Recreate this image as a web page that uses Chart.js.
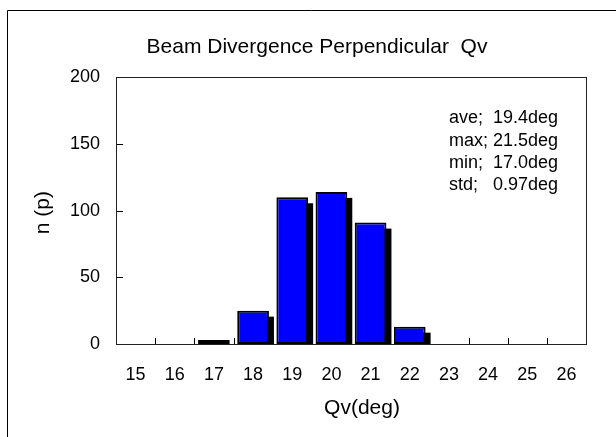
<!DOCTYPE html>
<html><head><meta charset="utf-8">
<script src="https://cdn.jsdelivr.net/npm/chart.js@4.4.1/dist/chart.umd.min.js"></script>
<style>html,body{margin:0;padding:0;background:#fff}#wrap{width:616px;height:437px;position:relative}</style>
</head><body><div id="wrap"><canvas id="c" width="616" height="437"></canvas></div>
<script>
const categories = ['15','16','17','18','19','20','21','22','23','24','25','26'];
const counts = [0, 0, 3, 25, 110, 114, 91, 13, 0, 0, 0, 0];
const yTickValues = [0, 50, 100, 150, 200];
const chartTitle = 'Beam Divergence Perpendicular  Qv';
const xAxisTitle = 'Qv(deg)';
const yAxisTitle = 'n (p)';
const statsLines = ['ave;  19.4deg', 'max; 21.5deg', 'min;  17.0deg', 'std;   0.97deg'];

const FONT = "'Liberation Sans', Arial, sans-serif";

const decor = {
  id: 'decor',
  beforeDraw(chart) {
    const ctx = chart.ctx;
    ctx.save();
    ctx.fillStyle = '#fff';
    ctx.fillRect(0, 0, chart.width, chart.height);
    ctx.strokeStyle = '#000';
    ctx.lineWidth = 1;
    ctx.beginPath();
    ctx.moveTo(7.5, chart.height);
    ctx.lineTo(7.5, 10.5);
    ctx.lineTo(chart.width, 10.5);
    ctx.stroke();
    ctx.restore();
  },
  beforeDatasetsDraw(chart) {
    const ctx = chart.ctx;
    const a = chart.chartArea;
    const xs = chart.scales.x, ys = chart.scales.y;
    ctx.save();
    ctx.strokeStyle = '#000';
    ctx.lineWidth = 1;
    ctx.beginPath();
    yTickValues.forEach(v => {
      const py = Math.round(ys.getPixelForValue(v)) + 0.5;
      ctx.moveTo(a.left, py); ctx.lineTo(a.left + 7, py);
    });
    for (let i = 0; i <= categories.length; i++) {
      const px = Math.round(xs.getPixelForValue(i - 0.5)) + 0.5;
      ctx.moveTo(px, a.bottom); ctx.lineTo(px, a.bottom - 6);
    }
    ctx.stroke();
    // shadows
    const meta = chart.getDatasetMeta(0);
    ctx.fillStyle = '#000';
    meta.data.forEach(bar => {
      const p = bar.getProps(['x', 'y', 'width', 'base'], true);
      const top = p.y + 6, bottom = p.base;
      if (bottom - top > 0) {
        ctx.fillRect(p.x - p.width / 2 + 5, top, p.width, bottom - top);
      }
    });
    ctx.restore();
  },
  afterDatasetsDraw(chart) {
    const ctx = chart.ctx;
    const a = chart.chartArea;
    ctx.save();
    ctx.strokeStyle = '#222';
    ctx.lineWidth = 1;
    ctx.strokeRect(Math.round(a.left) + 0.5, Math.round(a.top) + 0.5,
                   Math.round(a.right - a.left), Math.round(a.bottom - a.top));
    // stats text
    ctx.fillStyle = '#000';
    ctx.font = '18px ' + FONT;
    ctx.textAlign = 'left';
    ctx.textBaseline = 'alphabetic';
    statsLines.forEach((s, i) => {
      ctx.fillText(s, a.left + 333, a.top + 46 + i * 22.4);
    });
    // axis titles
    ctx.font = '21px ' + FONT;
    ctx.textAlign = 'center';
    ctx.textBaseline = 'middle';
    ctx.fillText(xAxisTitle, (a.left + a.right) / 2 + 11, a.bottom + 64);
    ctx.save();
    ctx.translate(a.left - 73, (a.top + a.bottom) / 2 + 2);
    ctx.rotate(-Math.PI / 2);
    ctx.fillText(yAxisTitle, 0, 0);
    ctx.restore();
    ctx.restore();
  }
};

new Chart(document.getElementById('c'), {
  type: 'bar',
  data: {
    labels: categories,
    datasets: [{
      data: counts,
      backgroundColor: '#0000FF',
      borderColor: '#000',
      borderWidth: 2,
      borderSkipped: false,
      categoryPercentage: 1,
      barPercentage: 0.81
    }]
  },
  options: {
    responsive: false,
    animation: false,
    devicePixelRatio: 1,
    layout: { padding: { left: 48, right: 30, top: 0, bottom: 0 } },
    plugins: {
      legend: { display: false },
      tooltip: { enabled: false },
      title: {
        display: true,
        text: chartTitle,
        color: '#000',
        font: { family: FONT, size: 21, weight: 'normal', lineHeight: 1.2 },
        padding: { top: 35, bottom: 17 }
      }
    },
    scales: {
      x: {
        offset: true,
        grid: { display: false, drawTicks: false, offset: true },
        border: { display: true, color: '#000', width: 1 },
        ticks: { color: '#000', font: { family: FONT, size: 18 }, padding: 20, maxRotation: 0, autoSkip: false },
        afterFit(scale) { scale.height = 93; }
      },
      y: {
        min: 0, max: 200,
        grid: { display: false, drawTicks: false },
        border: { display: true, color: '#000', width: 1 },
        ticks: { stepSize: 50, color: '#000', font: { family: FONT, size: 18 }, padding: 16 },
        afterFit(scale) { scale.width = 68; }
      }
    }
  },
  plugins: [decor]
});
</script>
</body></html>
